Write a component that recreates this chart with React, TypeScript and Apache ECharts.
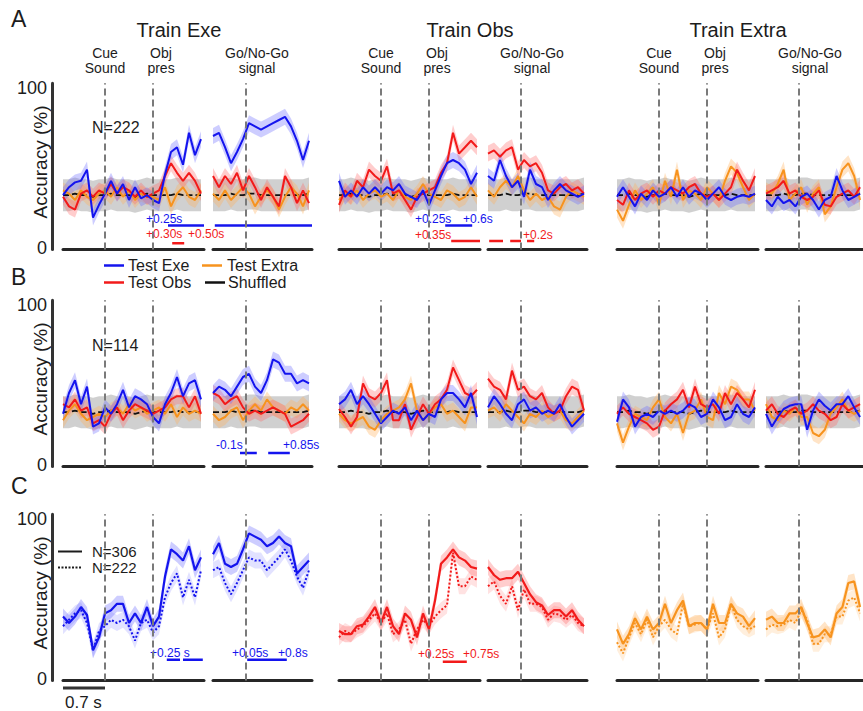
import React, { useEffect, useRef } from "react";
import * as echarts from "echarts";

// ---------- axes ----------
const T_LEFT = [0, 0.1, 0.2, 0.3, 0.4, 0.5, 0.6, 0.7, 0.8, 0.9, 1.0, 1.1, 1.2, 1.3, 1.4, 1.5, 1.6, 1.7, 1.8, 1.9, 2.0, 2.1, 2.2, 2.3];
const T_RIGHT = [0, 0.1, 0.2, 0.3, 0.4, 0.5, 0.6, 0.7, 0.8, 0.9, 1.0, 1.1, 1.2, 1.3, 1.4, 1.5, 1.6];
const LEFT_SPAN = 2.35; // s, cue/object epoch
const RIGHT_SPAN = 1.65; // s, go/no-go epoch
const LEFT_EVENTS = [0.7, 1.5]; // cue sound, object presentation
const RIGHT_EVENTS = [0.55]; // go/no-go signal
const Y_TICKS = [0, 100];

// ---------- labels ----------
const TRAIN_TITLES = ["Train Exe", "Train Obs", "Train Extra"];
const ROW_LETTERS = ["A", "B", "C"];
const EVENT_LABELS = ["Cue\nSound", "Obj\npres", "Go/No-Go\nsignal"];
const N_LABELS = ["N=222", "N=114"];
const LEGEND_LABELS = ["Test Exe", "Test Extra", "Test Obs", "Shuffled"];
const C_LEGEND = ["N=306", "N=222"];
const SCALE_LABEL = "0.7 s";
const Y_TITLE = "Accuracy (%)";

// ---------- shuffled (chance) ----------
const SHUF_L = [33, 33, 34, 33, 33, 32, 33, 33, 34, 33, 33, 33, 32, 33, 34, 33, 33, 33, 33, 34, 33, 33, 33, 33];
const SHUF_R = [33, 33, 33, 34, 33, 33, 34, 34, 33, 33, 33, 33, 33, 33, 33, 33, 34];
const SHUF_HALF = 10;
const SEM = 5;

// ---------- Row A ----------
const A1_BLUE_L = [33, 38, 41, 42, 49, 19, 27, 34, 42, 34, 40, 30, 38, 31, 33, 30, 28, 46, 60, 63, 52, 72, 58, 68];
const A1_BLUE_R = [70, 72, 63, 53, 60, 68, 78, 76, 74, 76, 78, 80, 82, 76, 67, 55, 67];
const A1_RED_L = [32, 26, 24, 34, 36, 32, 36, 34, 40, 34, 38, 36, 32, 36, 32, 34, 36, 45, 53, 47, 42, 47, 42, 34];
const A1_RED_R = [45, 38, 45, 40, 47, 36, 45, 38, 30, 38, 32, 26, 45, 38, 28, 36, 28];
const A1_ORANGE_L = [36, 34, 30, 36, 32, 30, 34, 36, 32, 38, 32, 36, 30, 34, 32, 32, 30, 38, 26, 34, 38, 32, 30, 36];
const A1_ORANGE_R = [34, 30, 36, 30, 34, 38, 34, 26, 32, 36, 32, 24, 32, 38, 34, 26, 36];

const A2_BLUE_L = [42, 32, 36, 32, 38, 34, 38, 34, 38, 36, 40, 34, 32, 30, 36, 27, 36, 45, 53, 55, 53, 49, 40, 47];
const A2_BLUE_R = [45, 42, 55, 45, 38, 42, 32, 49, 40, 38, 30, 36, 40, 36, 34, 32, 34];
const A2_RED_L = [27, 36, 32, 42, 38, 49, 45, 42, 51, 34, 36, 30, 24, 32, 34, 36, 38, 47, 53, 72, 59, 63, 67, 63];
const A2_RED_R = [59, 61, 57, 61, 63, 49, 55, 51, 53, 47, 36, 34, 38, 40, 36, 38, 34];
const A2_ORANGE_L = [30, 34, 32, 36, 30, 34, 36, 32, 34, 30, 36, 32, 30, 34, 40, 34, 32, 30, 36, 34, 30, 32, 38, 32];
const A2_ORANGE_R = [36, 32, 38, 42, 38, 45, 36, 30, 34, 30, 32, 26, 24, 32, 36, 34, 32];

const A3_BLUE_L = [32, 38, 32, 26, 34, 30, 36, 32, 34, 38, 32, 38, 32, 36, 34, 30, 34, 38, 32, 30, 32, 33, 32, 34];
const A3_BLUE_R = [30, 26, 32, 28, 30, 26, 32, 34, 30, 24, 30, 32, 45, 36, 30, 32, 34];
const A3_RED_L = [30, 27, 36, 30, 34, 36, 32, 36, 34, 38, 36, 34, 38, 40, 34, 32, 34, 30, 34, 38, 49, 42, 36, 45];
const A3_RED_R = [34, 36, 38, 42, 34, 36, 32, 30, 32, 36, 27, 26, 32, 34, 36, 32, 38];
const A3_ORANGE_L = [24, 17, 27, 36, 30, 34, 38, 27, 42, 32, 49, 30, 36, 34, 30, 38, 34, 30, 42, 51, 47, 38, 30, 34];
const A3_ORANGE_R = [36, 34, 40, 49, 30, 34, 38, 27, 34, 38, 21, 26, 38, 49, 53, 45, 30];

// ---------- Row B ----------
const B1_BLUE_L = [32, 45, 53, 38, 49, 24, 26, 36, 32, 38, 47, 36, 43, 41, 38, 30, 26, 38, 45, 55, 43, 51, 53, 41];
const B1_BLUE_R = [45, 49, 47, 43, 49, 55, 57, 49, 45, 53, 66, 64, 57, 57, 51, 53, 51];
const B1_RED_L = [38, 36, 41, 34, 36, 26, 28, 24, 32, 36, 28, 34, 38, 36, 34, 32, 34, 36, 41, 43, 43, 36, 43, 32];
const B1_RED_R = [45, 43, 38, 41, 43, 36, 32, 34, 32, 34, 36, 34, 32, 24, 26, 28, 32];
const B1_ORANGE_L = [28, 34, 38, 32, 28, 30, 32, 30, 34, 36, 32, 38, 34, 36, 32, 34, 36, 32, 38, 30, 36, 32, 34, 32];
const B1_ORANGE_R = [32, 28, 30, 34, 36, 28, 34, 38, 34, 41, 36, 34, 32, 36, 34, 38, 34];

const B2_BLUE_L = [38, 41, 47, 38, 43, 38, 32, 26, 30, 34, 32, 36, 28, 34, 28, 32, 30, 41, 45, 45, 41, 36, 45, 30];
const B2_BLUE_R = [36, 43, 38, 32, 28, 38, 41, 34, 36, 32, 34, 32, 38, 30, 24, 28, 32];
const B2_RED_L = [35, 30, 24, 30, 51, 43, 41, 45, 53, 28, 28, 38, 22, 30, 38, 32, 38, 41, 47, 61, 53, 45, 43, 47];
const B2_RED_R = [54, 49, 47, 41, 59, 47, 49, 43, 41, 45, 36, 32, 34, 43, 49, 47, 34];
const B2_ORANGE_L = [32, 28, 26, 28, 30, 24, 22, 28, 32, 34, 36, 41, 51, 34, 28, 32, 36, 38, 32, 34, 30, 26, 36, 36];
const B2_ORANGE_R = [34, 36, 32, 38, 34, 30, 26, 32, 30, 34, 30, 32, 34, 28, 26, 30, 34];

const B3_BLUE_L = [27, 41, 36, 24, 30, 32, 30, 34, 32, 34, 32, 34, 38, 36, 30, 32, 41, 36, 28, 30, 38, 32, 30, 36];
const B3_BLUE_R = [32, 24, 30, 35, 37, 38, 38, 22, 34, 41, 37, 34, 38, 38, 43, 36, 30];
const B3_RED_L = [32, 36, 32, 30, 28, 26, 22, 24, 34, 38, 41, 47, 36, 49, 38, 36, 38, 32, 45, 38, 45, 41, 36, 47];
const B3_RED_R = [34, 38, 32, 30, 34, 36, 32, 34, 38, 34, 32, 28, 30, 38, 34, 36, 38];
const B3_ORANGE_L = [26, 14, 24, 32, 30, 28, 36, 41, 30, 26, 32, 20, 32, 34, 41, 30, 28, 45, 38, 49, 47, 41, 41, 34];
const B3_ORANGE_R = [38, 30, 28, 34, 32, 36, 30, 30, 20, 18, 22, 32, 36, 41, 34, 32, 34];

// ---------- Row C (solid N=306, dotted N=222) ----------
const C1_SOLID_L = [39, 35, 39, 45, 40, 18, 26, 41, 43, 47, 47, 35, 41, 35, 45, 33, 39, 64, 81, 78, 74, 83, 68, 76];
const C1_DOTTED_L = [33, 37, 41, 43, 35, 18, 30, 33, 37, 35, 37, 33, 24, 35, 37, 29, 33, 51, 60, 66, 51, 62, 51, 68];
const C1_SOLID_R = [78, 85, 72, 70, 72, 81, 91, 89, 87, 83, 85, 89, 85, 83, 66, 70, 74];
const C1_DOTTED_R = [68, 70, 60, 53, 60, 68, 76, 74, 74, 68, 72, 76, 81, 74, 64, 57, 68];

const C2_SOLID_L = [30, 28, 28, 33, 34, 39, 45, 35, 45, 33, 28, 41, 37, 26, 41, 31, 49, 72, 76, 81, 76, 74, 70, 69];
const C2_DOTTED_L = [26, 30, 28, 31, 33, 37, 41, 35, 41, 28, 31, 37, 22, 31, 37, 33, 39, 43, 46, 79, 58, 58, 64, 62];
const C2_SOLID_R = [70, 65, 62, 63, 63, 67, 60, 53, 48, 46, 40, 43, 43, 39, 43, 37, 33];
const C2_DOTTED_R = [58, 61, 52, 47, 58, 43, 56, 47, 47, 45, 37, 41, 40, 37, 40, 35, 33];

const C3_SOLID_L = [31, 22, 28, 38, 31, 39, 31, 35, 47, 35, 43, 49, 33, 35, 35, 31, 47, 35, 35, 47, 41, 39, 33, 38];
const C3_DOTTED_L = [23, 16, 26, 35, 28, 37, 26, 33, 37, 31, 28, 47, 33, 34, 35, 31, 41, 26, 31, 47, 37, 33, 31, 33];
const C3_SOLID_R = [37, 39, 35, 35, 41, 41, 45, 35, 26, 27, 31, 26, 41, 45, 60, 61, 45];
const C3_DOTTED_R = [31, 34, 33, 34, 37, 35, 43, 37, 22, 22, 28, 28, 39, 39, 49, 51, 41];

// ---------- significance bars: [row, col, half(0 left/1 right), test, y%, from s, to s] ----------
const SIG_BARS: [number, number, number, string, number, number, number][] = [
  [0, 0, 0, "exe", 14, 1.75, 2.35],
  [0, 0, 0, "obs", 3, 1.82, 2.02],
  [0, 0, 1, "exe", 14, 0.03, 1.65],
  [0, 1, 0, "exe", 14, 1.77, 2.22],
  [0, 1, 0, "obs", 4.4, 1.87, 2.35],
  [0, 1, 1, "obs", 4.4, 0.02, 0.25],
  [0, 1, 1, "obs", 4.4, 0.37, 0.55],
  [0, 1, 1, "obs", 4.4, 0.65, 0.77],
  [1, 0, 1, "exe", 7.5, 0.45, 0.73],
  [1, 0, 1, "exe", 7.5, 0.92, 1.28],
  [2, 0, 0, "exe", 12, 1.73, 1.95],
  [2, 0, 0, "exe", 12, 2.0, 2.33],
  [2, 0, 1, "exe", 12, 0.57, 1.23],
  [2, 1, 0, "obs", 10.8, 1.73, 2.13],
];
// annotation labels: [text, test, x px, y px]
const SIG_LABELS: [string, string, number, number][] = [
  ["+0.25s", "exe", 146, 219],
  ["+0.30s", "obs", 146, 234],
  ["+0.50s", "obs", 188, 234],
  ["+0.25s", "exe", 415, 219],
  ["+0.6s", "exe", 463, 219],
  ["+0.35s", "obs", 415, 235],
  ["+0.2s", "obs", 523, 235],
  ["-0.1s", "exe", 216, 445],
  ["+0.85s", "exe", 283, 445],
  ["+0.25 s", "exe", 150, 653],
  ["+0.05s", "exe", 232, 653],
  ["+0.8s", "exe", 278, 653],
  ["+0.25s", "obs", 418, 654],
  ["+0.75s", "obs", 463, 654],
];

// ---------- tables built from the arrays ----------
const PANELS_AB = [
  [
    { exe: [A1_BLUE_L, A1_BLUE_R], obs: [A1_RED_L, A1_RED_R], extra: [A1_ORANGE_L, A1_ORANGE_R] },
    { exe: [A2_BLUE_L, A2_BLUE_R], obs: [A2_RED_L, A2_RED_R], extra: [A2_ORANGE_L, A2_ORANGE_R] },
    { exe: [A3_BLUE_L, A3_BLUE_R], obs: [A3_RED_L, A3_RED_R], extra: [A3_ORANGE_L, A3_ORANGE_R] },
  ],
  [
    { exe: [B1_BLUE_L, B1_BLUE_R], obs: [B1_RED_L, B1_RED_R], extra: [B1_ORANGE_L, B1_ORANGE_R] },
    { exe: [B2_BLUE_L, B2_BLUE_R], obs: [B2_RED_L, B2_RED_R], extra: [B2_ORANGE_L, B2_ORANGE_R] },
    { exe: [B3_BLUE_L, B3_BLUE_R], obs: [B3_RED_L, B3_RED_R], extra: [B3_ORANGE_L, B3_ORANGE_R] },
  ],
];
const PANELS_C = [
  { test: "exe", solid: [C1_SOLID_L, C1_SOLID_R], dotted: [C1_DOTTED_L, C1_DOTTED_R] },
  { test: "obs", solid: [C2_SOLID_L, C2_SOLID_R], dotted: [C2_DOTTED_L, C2_DOTTED_R] },
  { test: "extra", solid: [C3_SOLID_L, C3_SOLID_R], dotted: [C3_DOTTED_L, C3_DOTTED_R] },
];

// ---------- styling / layout ----------
const FONT = '"Liberation Sans", Arial, Helvetica, sans-serif';
const INK = "#1c1c1c";
const LINE_COLOR: Record<string, string> = { exe: "#1414ee", obs: "#f21a1a", extra: "#f7931e" };
const BAND_COLOR: Record<string, string> = {
  exe: "rgba(100,100,255,0.32)",
  obs: "rgba(255,100,100,0.32)",
  extra: "rgba(255,175,90,0.34)",
};
const BAND_COLOR_LIGHT: Record<string, string> = {
  exe: "rgba(110,110,255,0.2)",
  obs: "rgba(255,110,110,0.2)",
  extra: "rgba(255,180,100,0.22)",
};
const GRAY_BAND = "rgba(150,150,150,0.45)";
const COL_LEFT_X = [63, 339, 617];
const COL_RIGHT_X = [213, 488, 766];
const LEFT_W = 141;
const RIGHT_W = 99;
const ROW_ZERO_Y = [248, 465, 679];
const PX = 1.6; // px per %
const Y_MIN = -1;
const Y_MAX = 103;
const PX_PER_S = LEFT_W / LEFT_SPAN;
const TITLE_X = [179, 470, 738];

function buildOption() {
  const grid: any[] = [];
  const xAxis: any[] = [];
  const yAxis: any[] = [];
  const series: any[] = [];
  const pairs = (t: number[], v: number[]) => t.map((x, i) => [x, v[i]]);

  const band = (gi: number, t: number[], lo: number[], hi: number[], fill: string) => ({
    type: "custom",
    xAxisIndex: gi,
    yAxisIndex: gi,
    silent: true,
    clip: true,
    data: [[t[0], lo[0]]],
    renderItem: (_p: any, api: any) => {
      const pts: number[][] = [];
      for (let i = 0; i < t.length; i++) pts.push(api.coord([t[i], hi[i]]));
      for (let i = t.length - 1; i >= 0; i--) pts.push(api.coord([t[i], lo[i]]));
      return { type: "polygon", shape: { points: pts }, style: { fill } };
    },
  });

  const line = (gi: number, t: number[], v: number[], color: string, dash: any, width: number, markLine?: any) => ({
    type: "line",
    xAxisIndex: gi,
    yAxisIndex: gi,
    data: pairs(t, v),
    symbol: "none",
    silent: true,
    lineStyle: { color, width, type: dash },
    itemStyle: { color },
    markLine,
  });

  for (let r = 0; r < 3; r++) {
    for (let c = 0; c < 3; c++) {
      for (let h = 0; h < 2; h++) {
        const gi = grid.length;
        const t = h === 0 ? T_LEFT : T_RIGHT;
        grid.push({
          left: (h === 0 ? COL_LEFT_X : COL_RIGHT_X)[c],
          top: ROW_ZERO_Y[r] - Y_MAX * PX,
          width: h === 0 ? LEFT_W : RIGHT_W,
          height: (Y_MAX - Y_MIN) * PX,
        });
        xAxis.push({
          type: "value",
          gridIndex: gi,
          min: 0,
          max: h === 0 ? LEFT_SPAN : RIGHT_SPAN,
          axisLine: { show: true, onZero: false, lineStyle: { color: "#262626", width: 3 } },
          axisTick: { show: false },
          axisLabel: { show: false },
          splitLine: { show: false },
        });
        const showY = c === 0 && h === 0;
        yAxis.push({
          type: "value",
          gridIndex: gi,
          min: Y_MIN,
          max: Y_MAX,
          show: showY,
          offset: 11,
          axisLine: { show: showY, onZero: false, lineStyle: { color: "#333", width: 3 } },
          axisTick: { show: false },
          splitLine: { show: false },
          axisLabel: {
            show: showY,
            customValues: Y_TICKS,
            fontSize: 18,
            color: INK,
            margin: 5,
            fontFamily: FONT,
          },
        });
        const mark = {
          silent: true,
          symbol: ["none", "none"],
          label: { show: false },
          lineStyle: { color: "#7a7a7a", type: [7, 4], width: 2 },
          data: (h === 0 ? LEFT_EVENTS : RIGHT_EVENTS).map((x) => ({ xAxis: x })),
        };

        if (r < 2) {
          const d: any = PANELS_AB[r][c];
          const shuf = h === 0 ? SHUF_L : SHUF_R;
          series.push(band(gi, t, shuf.map((v) => v - SHUF_HALF), shuf.map((v) => v + SHUF_HALF), GRAY_BAND));
          for (const k of ["extra", "obs", "exe"]) {
            const v: number[] = d[k][h];
            series.push(band(gi, t, v.map((x) => x - SEM), v.map((x) => x + SEM), BAND_COLOR[k]));
          }
          series.push(line(gi, t, shuf, "#111", [6, 3], 1.8, mark));
          for (const k of ["extra", "obs", "exe"]) {
            series.push(line(gi, t, d[k][h], LINE_COLOR[k], "solid", 2));
          }
        } else {
          const d: any = PANELS_C[c];
          const s: number[] = d.solid[h];
          const dt: number[] = d.dotted[h];
          series.push(band(gi, t, dt.map((x) => x - SEM), dt.map((x) => x + SEM), BAND_COLOR_LIGHT[d.test]));
          series.push(band(gi, t, s.map((x) => x - SEM), s.map((x) => x + SEM), BAND_COLOR[d.test]));
          series.push(line(gi, t, dt, LINE_COLOR[d.test], [2, 2], 2, mark));
          series.push(line(gi, t, s, LINE_COLOR[d.test], "solid", 2.2));
        }
      }
    }
  }

  for (const [r, c, h, k, y, a, b] of SIG_BARS) {
    const gi = (r * 3 + c) * 2 + h;
    series.push(line(gi, [a, b], [y, y], LINE_COLOR[k], "solid", 2.5));
  }

  const text = (t: string, x: number, y: number, o: any = {}) => ({
    type: "text",
    x,
    y,
    silent: true,
    rotation: o.rotation || 0,
    style: {
      text: t,
      fill: o.fill || INK,
      fontSize: o.size || 16,
      fontFamily: FONT,
      align: o.align || "left",
      textAlign: o.align || "left",
      verticalAlign: o.va || "middle",
      textVerticalAlign: o.va || "middle",
      lineHeight: o.lh,
    },
  });
  const seg = (x1: number, y1: number, x2: number, y2: number, stroke: string, w: number, dash?: number[]) => ({
    type: "line",
    silent: true,
    shape: { x1, y1, x2, y2 },
    style: { stroke, lineWidth: w, lineDash: dash },
  });

  const graphic: any[] = [];
  // panel letters
  graphic.push(text(ROW_LETTERS[0], 11, 19, { size: 23 }));
  graphic.push(text(ROW_LETTERS[1], 11, 277, { size: 23 }));
  graphic.push(text(ROW_LETTERS[2], 11, 486, { size: 23 }));
  // column titles and event labels (two lines each)
  for (let c = 0; c < 3; c++) {
    graphic.push(text(TRAIN_TITLES[c], TITLE_X[c], 30, { size: 20, align: "center" }));
    const ex = [
      COL_LEFT_X[c] + LEFT_EVENTS[0] * PX_PER_S,
      COL_LEFT_X[c] + LEFT_EVENTS[1] * PX_PER_S + 8,
      COL_RIGHT_X[c] + RIGHT_EVENTS[0] * PX_PER_S + 11,
    ];
    for (let e = 0; e < 3; e++) {
      graphic.push(text(EVENT_LABELS[e], ex[e], 45.5, { size: 14, align: "center", va: "top", lh: 15 }));
    }
  }
  // y titles
  for (let r = 0; r < 3; r++) {
    graphic.push(text(Y_TITLE, 40, ROW_ZERO_Y[r] - 86, { size: 19, align: "center", rotation: Math.PI / 2 }));
  }
  // N labels
  graphic.push(text(N_LABELS[0], 92, 127, { size: 16 }));
  graphic.push(text(N_LABELS[1], 92, 345, { size: 16 }));
  // legend (rows A/B)
  graphic.push(seg(104, 265.5, 124, 265.5, LINE_COLOR.exe, 2.5));
  graphic.push(text(LEGEND_LABELS[0], 128, 265.5, { size: 16 }));
  graphic.push(seg(202, 265.5, 222, 265.5, LINE_COLOR.extra, 2.5));
  graphic.push(text(LEGEND_LABELS[1], 227, 265.5, { size: 16 }));
  graphic.push(seg(104, 282.5, 124, 282.5, LINE_COLOR.obs, 2.5));
  graphic.push(text(LEGEND_LABELS[2], 128, 282.5, { size: 16 }));
  graphic.push(seg(205, 282.5, 225, 282.5, "#111", 2.5));
  graphic.push(text(LEGEND_LABELS[3], 228, 282.5, { size: 16 }));
  // legend (row C)
  graphic.push(seg(58, 551.5, 82, 551.5, INK, 2));
  graphic.push(text(C_LEGEND[0], 92, 551.5, { size: 15 }));
  graphic.push(seg(58, 567.5, 82, 567.5, INK, 2, [2, 1.5]));
  graphic.push(text(C_LEGEND[1], 92, 567.5, { size: 15 }));
  // scale bar
  graphic.push(seg(COL_LEFT_X[0], 688, COL_LEFT_X[0] + 0.7 * PX_PER_S, 688, "#333", 3));
  graphic.push(text(SCALE_LABEL, 65, 702, { size: 17 }));
  // significance labels
  for (const [s, k, x, y] of SIG_LABELS) {
    graphic.push(text(s, x, y, { size: 12, fill: LINE_COLOR[k] }));
  }

  return {
    animation: false,
    backgroundColor: "#ffffff",
    grid,
    xAxis,
    yAxis,
    series,
    graphic,
  };
}

export default function App() {
  const ref = useRef<HTMLDivElement>(null);
  useEffect(() => {
    if (!ref.current) return;
    const chart = echarts.init(ref.current, undefined, { renderer: "svg" });
    chart.setOption(buildOption() as any);
    return () => chart.dispose();
  }, []);
  return (
    <div
      ref={ref}
      style={{ position: "absolute", left: 0, top: 0, width: 863, height: 711, background: "#fff" }}
    />
  );
}
